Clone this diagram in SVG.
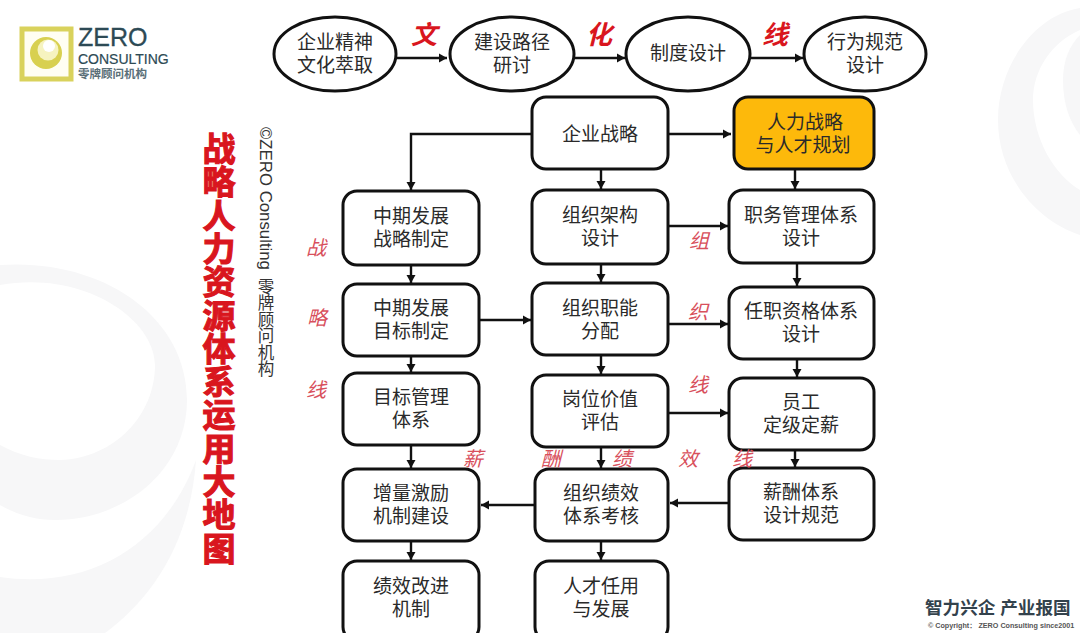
<svg xmlns="http://www.w3.org/2000/svg" width="1080" height="633" viewBox="0 0 1080 633">
<style>
text{font-family:"Liberation Sans","Noto Sans CJK SC",sans-serif}
.n{fill:#fff;stroke:#111;stroke-width:3}
.t{font-size:19px;fill:#2a2a2a;text-anchor:middle}
.c{fill:none;stroke:#111;stroke-width:2.4;marker-end:url(#a)}
.r{font-size:20px;fill:#d8505c;font-style:italic;text-anchor:middle}
.b{font-size:26px;fill:#d9161e;font-style:italic;font-weight:bold;text-anchor:middle}
</style>
<defs><marker id="a" markerUnits="userSpaceOnUse" markerWidth="10" markerHeight="10" refX="8" refY="5" orient="auto"><path d="M0,0.5 L8,5 L0,9.5z" fill="#111"/></marker></defs>
<rect width="1080" height="633" fill="#fff"/>
<g id="background" fill="#f7f7f8">
<path d="M0,265 C100,258 187,315 187,400 C187,470 125,520 55,520 C35,520 15,514 0,505 L0,445 C20,456 40,460 60,460 C115,458 155,415 155,365 C155,320 85,270 0,285z"/>
<path d="M196,460 C190,545 150,600 105,633 L0,633 L0,577 C90,590 165,545 196,460z"/>
<path d="M1080,8 C1035,15 998,65 998,120 C998,175 1035,220 1080,235 L1080,190 C1055,175 1033,140 1033,100 C1033,70 1052,42 1080,30z"/>
<path d="M1080,35 C1070,45 1063,60 1063,80 C1063,105 1070,122 1080,135z"/>
</g>
<g id="logo">
<rect x="22" y="29" width="49" height="50" fill="#fffef2" stroke="#d9d25c" stroke-width="5"/>
<circle cx="46" cy="53" r="16" fill="#d8d050"/>
<circle cx="48" cy="50" r="10.5" fill="#f6f3c0"/>
<circle cx="49" cy="46" r="6" fill="#fff"/>
<text x="78" y="46" font-size="25" fill="#2d4a55" stroke="#2d4a55" stroke-width=".3">ZERO</text>
<text x="78" y="64" font-size="14" fill="#2d4a55" stroke="#2d4a55" stroke-width=".2">CONSULTING</text>
<text x="78" y="78" font-size="11.5" font-weight="bold" fill="#5a6f78">零牌顾问机构</text>
</g>
<g id="title">
<text x="219" y="132" font-size="33" font-weight="bold" fill="#d9161e" stroke="#d9161e" stroke-width="1.1" letter-spacing=".3" style="writing-mode:vertical-rl;font-family:'Noto Sans CJK SC',sans-serif">战略人力资源体系运用大地图</text>
<text transform="translate(260,127) rotate(90)" font-size="16.8" fill="#333">©ZERO Consulting</text>
<text x="266" y="278" font-size="16.5" fill="#333" style="writing-mode:vertical-rl;font-family:'Noto Sans CJK SC',sans-serif">零牌顾问机构</text>
</g>
<g id="connectors">
<path class="c" d="M396,58H447"/>
<path class="c" d="M574,58H625"/>
<path class="c" d="M750,58H803"/>
<path class="c" d="M532,134H411V190"/>
<path class="c" d="M668,134H731"/>
<path class="c" d="M601,169V189"/>
<path class="c" d="M795,169V189"/>
<path class="c" d="M411,265V283"/>
<path class="c" d="M601,264V282"/>
<path class="c" d="M668,226H728"/>
<path class="c" d="M797,263V286"/>
<path class="c" d="M479,320H531"/>
<path class="c" d="M668,324H728"/>
<path class="c" d="M411,356V372"/>
<path class="c" d="M601,355V374"/>
<path class="c" d="M797,359V377"/>
<path class="c" d="M668,413H728"/>
<path class="c" d="M411,445V468"/>
<path class="c" d="M601,447V468"/>
<path class="c" d="M795,450V467"/>
<path class="c" d="M729,503H670"/>
<path class="c" d="M535,505H481"/>
<path class="c" d="M411,541V560"/>
<path class="c" d="M601,541V560"/>
</g>
<g id="n1"><ellipse class="n" cx="335" cy="54" rx="61" ry="37"/><text class="t" x="335" y="49">企业精神</text><text class="t" x="335" y="72">文化萃取</text></g>
<g id="n2"><ellipse class="n" cx="512" cy="54" rx="62" ry="37"/><text class="t" x="512" y="49">建设路径</text><text class="t" x="512" y="72">研讨</text></g>
<g id="n3"><ellipse class="n" cx="688" cy="54" rx="62" ry="37"/><text class="t" x="688" y="60">制度设计</text></g>
<g id="n4"><ellipse class="n" cx="865" cy="54" rx="61" ry="37"/><text class="t" x="865" y="49">行为规范</text><text class="t" x="865" y="72">设计</text></g>
<g id="n5"><rect class="n" x="532" y="97" width="136" height="72" rx="14"/><text class="t" x="600" y="141">企业战略</text></g>
<g id="n6"><rect class="n" x="734" y="97" width="140" height="72" rx="14" style="fill:#fdb90b"/><text class="t" x="805" y="129">人力战略</text><text class="t" x="803" y="152">与人才规划</text></g>
<g id="n7"><rect class="n" x="343" y="191" width="136" height="74" rx="14"/><text class="t" x="411" y="223">中期发展</text><text class="t" x="411" y="246">战略制定</text></g>
<g id="n8"><rect class="n" x="532" y="190" width="136" height="74" rx="14"/><text class="t" x="600" y="222">组织架构</text><text class="t" x="600" y="245">设计</text></g>
<g id="n9"><rect class="n" x="729" y="190" width="145" height="73" rx="14"/><text class="t" x="801" y="222">职务管理体系</text><text class="t" x="801" y="245">设计</text></g>
<g id="n10"><rect class="n" x="343" y="284" width="136" height="72" rx="14"/><text class="t" x="411" y="315">中期发展</text><text class="t" x="411" y="338">目标制定</text></g>
<g id="n11"><rect class="n" x="532" y="283" width="136" height="72" rx="14"/><text class="t" x="600" y="315">组织职能</text><text class="t" x="600" y="338">分配</text></g>
<g id="n12"><rect class="n" x="729" y="287" width="145" height="72" rx="14"/><text class="t" x="801" y="318">任职资格体系</text><text class="t" x="801" y="341">设计</text></g>
<g id="n13"><rect class="n" x="343" y="373" width="136" height="72" rx="14"/><text class="t" x="411" y="404">目标管理</text><text class="t" x="411" y="427">体系</text></g>
<g id="n14"><rect class="n" x="532" y="375" width="136" height="72" rx="14"/><text class="t" x="600" y="406">岗位价值</text><text class="t" x="600" y="429">评估</text></g>
<g id="n15"><rect class="n" x="729" y="378" width="145" height="72" rx="14"/><text class="t" x="801" y="409">员工</text><text class="t" x="801" y="432">定级定薪</text></g>
<g id="n16"><rect class="n" x="343" y="469" width="136" height="72" rx="14"/><text class="t" x="411" y="500">增量激励</text><text class="t" x="411" y="523">机制建设</text></g>
<g id="n17"><rect class="n" x="535" y="469" width="133" height="72" rx="14"/><text class="t" x="601" y="500">组织绩效</text><text class="t" x="601" y="523">体系考核</text></g>
<g id="n18"><rect class="n" x="729" y="468" width="145" height="72" rx="14"/><text class="t" x="801" y="499">薪酬体系</text><text class="t" x="801" y="522">设计规范</text></g>
<g id="n19"><rect class="n" x="343" y="561" width="136" height="80" rx="14"/><text class="t" x="411" y="593">绩效改进</text><text class="t" x="411" y="616">机制</text></g>
<g id="n20"><rect class="n" x="535" y="561" width="133" height="80" rx="14"/><text class="t" x="601" y="593">人才任用</text><text class="t" x="601" y="616">与发展</text></g>
<g id="labels">
<text class="b" x="424" y="44">文</text><text class="b" x="599" y="44">化</text><text class="b" x="775" y="44">线</text>
<text class="r" x="316" y="255">战</text><text class="r" x="317" y="325">略</text><text class="r" x="316" y="397">线</text>
<text class="r" x="699" y="248">组</text><text class="r" x="698" y="319">织</text><text class="r" x="698" y="392">线</text>
<text class="r" x="473" y="466">薪</text><text class="r" x="551" y="466">酬</text><text class="r" x="622" y="466">绩</text><text class="r" x="688" y="466">效</text><text class="r" x="742" y="466">线</text>
</g>
<g id="footer">
<text x="925" y="614" font-size="17.6" font-weight="bold" fill="#33424c">智力兴企 产业报国</text>
<text x="928" y="628" font-size="7.2" font-weight="bold" fill="#555">© Copyright： ZERO Consulting since2001</text>
</g>
</svg>
